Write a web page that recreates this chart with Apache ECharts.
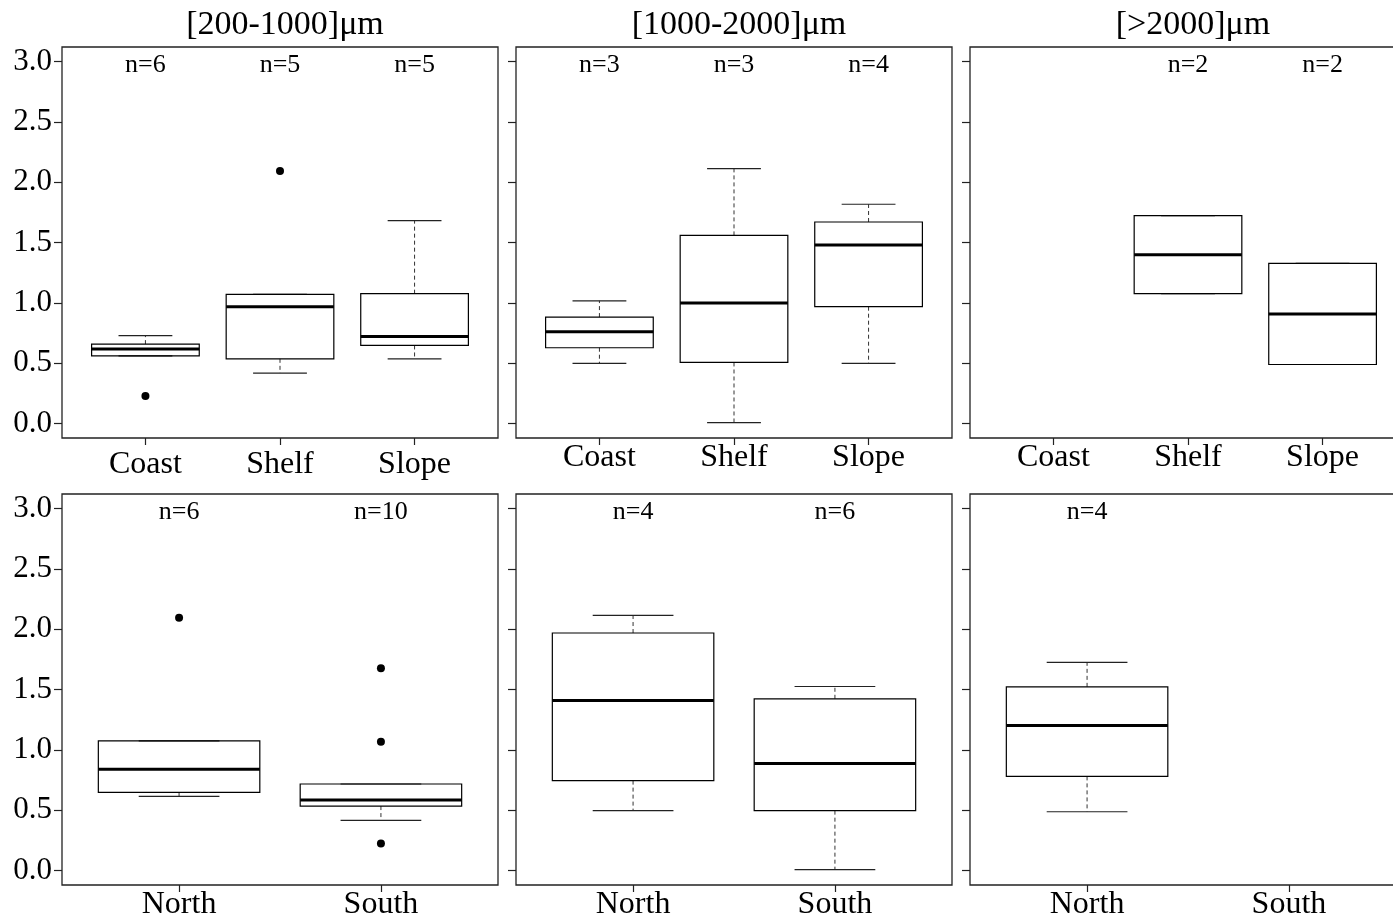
<!DOCTYPE html>
<html>
<head>
<meta charset="utf-8">
<script src="https://cdn.jsdelivr.net/npm/echarts@6/dist/echarts.min.js"></script>
<style>html,body{margin:0;padding:0;background:#fff;overflow:hidden}#c{width:1410px;height:921px}</style>
</head>
<body>
<div id="c"></div>
<script>
// ---------- data ----------
const sizeClasses = ['[200-1000]μm', '[1000-2000]μm', '[>2000]μm'];
const zoneCats = ['Coast', 'Shelf', 'Slope'];
const regionCats = ['North', 'South'];
const yTicks = [0, 0.5, 1.0, 1.5, 2.0, 2.5, 3.0];

// box stats per category: [lower whisker, Q1, median, Q3, upper whisker]; null = no data
const zoneSmallBoxes = [[0.56, 0.56, 0.617, 0.658, 0.728], [0.418, 0.536, 0.968, 1.07, 1.07], [0.536, 0.647, 0.722, 1.076, 1.681]];
const zoneSmallOutliers = [[1, 0.227], [2, 2.093]];
const zoneSmallN = [6, 5, 5];

const zoneMidBoxes = [[0.498, 0.628, 0.76, 0.882, 1.017], [0.008, 0.506, 0.998, 1.559, 2.112], [0.498, 0.968, 1.479, 1.67, 1.817]];
const zoneMidOutliers = [];
const zoneMidN = [3, 3, 4];

const zoneLargeBoxes = [null, [1.076, 1.076, 1.399, 1.722, 1.722], [0.489, 0.489, 0.907, 1.327, 1.327]];
const zoneLargeOutliers = [];
const zoneLargeN = [null, 2, 2];

const regionSmallBoxes = [[0.614, 0.648, 0.839, 1.074, 1.074], [0.415, 0.534, 0.584, 0.717, 0.717]];
const regionSmallOutliers = [[1, 2.095], [2, 1.677], [2, 1.068], [2, 0.224]];
const regionSmallN = [6, 10];

const regionMidBoxes = [[0.496, 0.745, 1.409, 1.968, 2.115], [0.008, 0.496, 0.886, 1.423, 1.525]];
const regionMidOutliers = [];
const regionMidN = [4, 6];

const regionLargeBoxes = [[0.487, 0.78, 1.201, 1.522, 1.724], null];
const regionLargeOutliers = [];
const regionLargeN = [4, null];

// ---------- layout ----------
const FONT = "'Liberation Serif', 'Times New Roman', serif";
const colLeft = [62, 516, 970];
const rowTop = [47, 494];
const panelW = 436, panelH = 391;

const panels = [
  {row: 0, col: 0, cats: zoneCats, boxes: zoneSmallBoxes, out: zoneSmallOutliers, n: zoneSmallN, labelMargin: 27},
  {row: 0, col: 1, cats: zoneCats, boxes: zoneMidBoxes, out: zoneMidOutliers, n: zoneMidN, labelMargin: 20},
  {row: 0, col: 2, cats: zoneCats, boxes: zoneLargeBoxes, out: zoneLargeOutliers, n: zoneLargeN, labelMargin: 20},
  {row: 1, col: 0, cats: regionCats, boxes: regionSmallBoxes, out: regionSmallOutliers, n: regionSmallN, labelMargin: 20},
  {row: 1, col: 1, cats: regionCats, boxes: regionMidBoxes, out: regionMidOutliers, n: regionMidN, labelMargin: 20},
  {row: 1, col: 2, cats: regionCats, boxes: regionLargeBoxes, out: regionLargeOutliers, n: regionLargeN, labelMargin: 20}
];

function renderBox(params, api) {
  const x = api.value(0);
  const lo = api.value(1), q1 = api.value(2), med = api.value(3), q3 = api.value(4), hi = api.value(5);
  const pQ1 = api.coord([x, q1]);
  const cx = pQ1[0];
  const left = api.coord([x - 0.4, q1])[0];
  const right = api.coord([x + 0.4, q1])[0];
  const half = (right - left) / 2;
  const sh = half / 2;
  const yLo = api.coord([x, lo])[1], yQ1 = pQ1[1], yMed = api.coord([x, med])[1], yQ3 = api.coord([x, q3])[1], yHi = api.coord([x, hi])[1];
  const dash = {stroke: '#333', lineWidth: 1, lineDash: [4, 3], fill: null};
  const solid = {stroke: '#222', lineWidth: 1.2, fill: null};
  const ch = [];
  if (hi > q3) ch.push({type: 'line', shape: {x1: cx, y1: yQ3, x2: cx, y2: yHi}, style: dash});
  if (lo < q1) ch.push({type: 'line', shape: {x1: cx, y1: yQ1, x2: cx, y2: yLo}, style: dash});
  ch.push({type: 'line', shape: {x1: cx - sh, y1: yHi, x2: cx + sh, y2: yHi}, style: solid});
  ch.push({type: 'line', shape: {x1: cx - sh, y1: yLo, x2: cx + sh, y2: yLo}, style: solid});
  ch.push({type: 'rect', shape: {x: left, y: yQ3, width: right - left, height: yQ1 - yQ3}, style: {stroke: '#000', lineWidth: 1.2, fill: null}});
  ch.push({type: 'line', shape: {x1: left, y1: yMed, x2: right, y2: yMed}, style: {stroke: '#000', lineWidth: 3}});
  return {type: 'group', children: ch};
}

function renderN(params, api) {
  const p = api.coord([api.value(0), api.value(1)]);
  return {type: 'text', x: p[0], y: p[1], style: {text: 'n=' + api.value(2), fill: '#000', font: '26px ' + FONT, textAlign: 'center', textVerticalAlign: 'middle'}};
}

const grid = [], xAxis = [], yAxis = [], series = [], title = [];

sizeClasses.forEach((t, i) => {
  title.push({text: t, left: colLeft[i] + panelW / 2, top: 3, textAlign: 'center',
    textStyle: {fontFamily: FONT, fontSize: 34, fontWeight: 'normal', color: '#000'}});
});

panels.forEach((p, k) => {
  const nc = p.cats.length;
  const ext = 0.04 * nc;
  grid.push({left: colLeft[p.col], top: rowTop[p.row], width: panelW, height: panelH,
    show: true, borderColor: '#222', borderWidth: 1.3, backgroundColor: 'transparent', containLabel: false});
  const xVals = p.cats.map((c, j) => j + 1);
  xAxis.push({type: 'value', gridIndex: k, min: 0.5 - ext, max: nc + 0.5 + ext, position: 'bottom',
    splitLine: {show: false}, axisLine: {show: false, onZero: false},
    axisTick: {show: true, length: 7, inside: false, customValues: xVals, lineStyle: {color: '#222', width: 1.2}},
    axisLabel: {show: true, customValues: xVals, margin: p.labelMargin, verticalAlign: 'middle',
      formatter: v => p.cats[Math.round(v) - 1] || '', fontFamily: FONT, fontSize: 32, color: '#000'}});
  yAxis.push({type: 'value', gridIndex: k, min: -0.12, max: 3.12, position: 'left',
    splitLine: {show: false}, axisLine: {show: false, onZero: false},
    axisTick: {show: true, length: 8, inside: false, customValues: yTicks, lineStyle: {color: '#222', width: 1.2}},
    axisLabel: {show: p.col === 0, customValues: yTicks, margin: 10,
      formatter: v => Number(v).toFixed(1), fontFamily: FONT, fontSize: 31, color: '#000'}});
  const boxData = [];
  p.boxes.forEach((b, j) => { if (b) boxData.push([j + 1].concat(b)); });
  series.push({type: 'custom', xAxisIndex: k, yAxisIndex: k, renderItem: renderBox,
    encode: {x: 0, y: [1, 2, 3, 4, 5]}, data: boxData, silent: true});
  if (p.out.length) {
    series.push({type: 'scatter', xAxisIndex: k, yAxisIndex: k, symbol: 'circle', symbolSize: 8,
      itemStyle: {color: '#000', opacity: 1}, data: p.out, silent: true});
  }
  const nData = [];
  p.n.forEach((n, j) => { if (n != null) nData.push([j + 1, 2.97, n]); });
  series.push({type: 'custom', xAxisIndex: k, yAxisIndex: k, renderItem: renderN,
    encode: {x: 0, y: 1}, data: nData, silent: true});
});

const chart = echarts.init(document.getElementById('c'), null, {renderer: 'canvas'});
chart.setOption({animation: false, backgroundColor: '#fff', title, grid, xAxis, yAxis, series});
</script>
</body>
</html>
